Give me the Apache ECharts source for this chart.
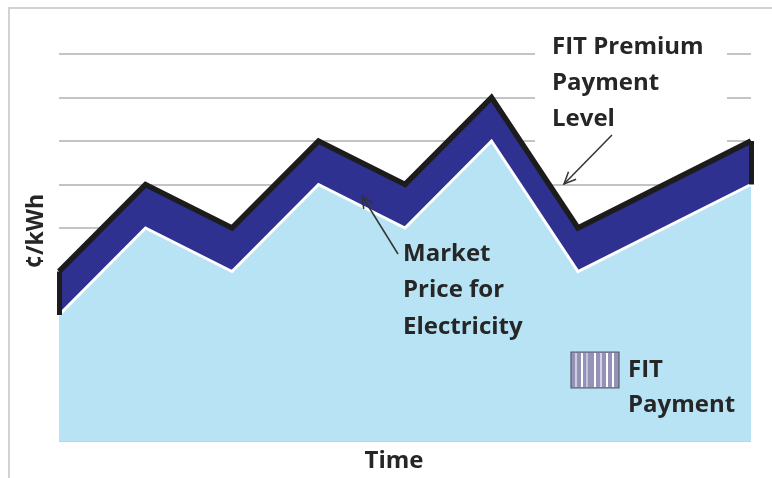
<!DOCTYPE html>
<html><head><meta charset="utf-8">
<script src="https://cdn.jsdelivr.net/npm/echarts@6/dist/echarts.min.js"></script>
<style>html,body{margin:0;padding:0;background:#fff}#c{width:772px;height:478px}</style>
</head><body><div id="c"></div>
<script>
// ---- data ----
const periods = ['1', '2', '3', '4', '5', '6', '7', '8', '9'];
const fitPremiumLevel = [4, 6, 5, 7, 6, 8, 5, 6, 7];
const marketPrice = [3, 5, 4, 6, 5, 7, 4, 5, 6];
const gridValues = [5, 6, 7, 8, 9];

const TXT = '#262626';
const FONT = '"Open Sans", "Noto Sans", sans-serif';

function label(text, x, y, extra) {
  return Object.assign({
    type: 'text', x: x, y: y, z: 100,
    style: { text: text, fill: TXT, font: '700 24px ' + FONT, align: 'left', verticalAlign: 'middle' }
  }, extra || {});
}
function arrow(x1, y1, x2, y2) {
  const a = Math.atan2(y2 - y1, x2 - x1), L = 13, s = 0.42;
  return [
    { type: 'line', z: 100, shape: { x1: x1, y1: y1, x2: x2, y2: y2 }, style: { stroke: '#333', lineWidth: 1.5 } },
    { type: 'polyline', z: 100, shape: { points: [
      [x2 - L * Math.cos(a - s), y2 - L * Math.sin(a - s)], [x2, y2],
      [x2 - L * Math.cos(a + s), y2 - L * Math.sin(a + s)]] },
      style: { stroke: '#333', lineWidth: 1.5, fill: null } }
  ];
}
// legend swatch stripes (decoration)
const stripeOffsets = [[4, '#cfcde3'], [10, '#ffffff'], [15, '#c4c2dc'], [23, '#ffffff'], [29, '#d3d1e6'], [35, '#ffffff'], [41, '#ffffff']];
const swatch = [{ type: 'rect', z: 100, shape: { x: 571, y: 352, width: 48, height: 36 }, style: { fill: '#9592b8', stroke: '#5a5a6a', lineWidth: 1.2 } }]
  .concat(stripeOffsets.map(s => ({ type: 'rect', z: 101, shape: { x: 571 + s[0], y: 353, width: 2, height: 34 }, style: { fill: s[1] } })));

const chart = echarts.init(document.getElementById('c'));
chart.setOption({
  animation: false,
  backgroundColor: '#fff',
  grid: { left: 59, right: 21, top: 10.5, bottom: 36.85 },
  xAxis: {
    type: 'category', data: periods, boundaryGap: false,
    axisLine: { show: false }, axisTick: { show: false }, axisLabel: { show: false }, splitLine: { show: false }
  },
  yAxis: {
    type: 'value', min: 0.1, max: 10,
    axisLine: { show: false }, axisTick: { show: false }, axisLabel: { show: false }, splitLine: { show: false }
  },
  series: [
    {
      name: 'FIT Premium Payment Level', type: 'line', data: fitPremiumLevel, z: 2,
      symbol: 'none', silent: true,
      lineStyle: { color: '#1c1c1c', width: 5.5, join: 'miter', miterLimit: 10 },
      areaStyle: { color: '#2e3190', opacity: 1 },
      markLine: {
        z: 1, silent: true, symbol: 'none', label: { show: false },
        lineStyle: { color: '#c4c4c4', width: 2, type: 'solid' },
        data: gridValues.map(v => ({ yAxis: v }))
      }
    },
    {
      name: 'Market Price for Electricity', type: 'line', data: marketPrice, z: 3,
      symbol: 'none', silent: true,
      lineStyle: { color: '#ffffff', width: 3, join: 'miter', miterLimit: 10 },
      areaStyle: { color: '#b8e3f5', opacity: 1 },
      markLine: {
        z: 20, silent: true, symbol: 'none', label: { show: false },
        lineStyle: { color: '#1c1c1c', width: 5, type: 'solid' },
        data: [
          [{ coord: [periods[0], marketPrice[0]] }, { coord: [periods[0], fitPremiumLevel[0]] }],
          [{ coord: [periods[8], marketPrice[8]] }, { coord: [periods[8], fitPremiumLevel[8]] }]
        ]
      }
    }
  ],
  graphic: [
    { type: 'rect', z: 0, shape: { x: 9, y: 8, width: 800, height: 500 }, style: { fill: null, stroke: '#d2d2d2', lineWidth: 2 } },
    { type: 'rect', z: 1.5, shape: { x: 535, y: 28, width: 192, height: 130 }, style: { fill: '#ffffff' } },
    label('FIT Premium', 552, 47.5),
    label('Payment', 552, 83.5),
    label('Level', 552, 119.5),
    label('Market', 403, 254),
    label('Price for', 403, 290.5),
    label('Electricity', 403, 327),
    label('FIT', 628, 370.5),
    label('Payment', 628, 405.5),
    label('Time', 394, 461, { style: { text: 'Time', fill: TXT, font: '700 24px ' + FONT, align: 'center', verticalAlign: 'middle' } }),
    { type: 'text', z: 100, x: 36, y: 231, rotation: Math.PI / 2,
      style: { text: '¢/kWh', fill: TXT, font: '700 23px ' + FONT, align: 'center', verticalAlign: 'middle' } }
  ].concat(arrow(612, 135, 564, 184), arrow(398, 254, 362, 196), swatch)
});
</script></body></html>
